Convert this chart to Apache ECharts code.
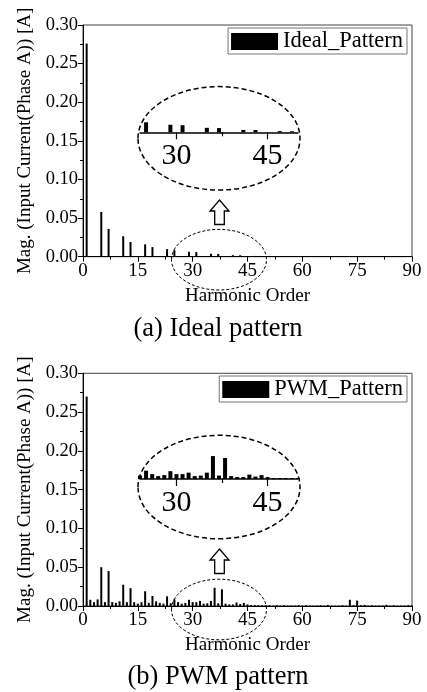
<!DOCTYPE html>
<html><head><meta charset="utf-8">
<script src="https://cdn.jsdelivr.net/npm/echarts@6/dist/echarts.min.js"></script>
<style>html,body{margin:0;padding:0;background:#fff}#c{width:427px;height:692px}</style>
</head><body><div id="c"></div><script>
const FONT = '"Liberation Serif","Times New Roman",serif';
// ---- data ----
const idealOrders = [1,5,7,11,13,17,19,23,25,29,31,35,37,41,43,47,49,53,55,59,61,65,67,71,73,77,79,83,85,89];
const idealMags   = [0.276,0.058,0.036,0.0265,0.019,0.016,0.0124,0.0098,0.0085,0.0064,0.006,0.0038,0.0036,0.002,0.0019,0.001,0.0009,
                     0.0006,0.0005,0.0005,0.0004,0.0004,0.0004,0.0003,0.0003,0.0003,0.0003,0.0003,0.0002,0.0002];
const pwmOrders = [1,2,3,4,5,6,7,8,9,10,11,12,13,14,15,16,17,18,19,20,21,22,23,24,25,26,27,28,29,30,
                   31,32,33,34,35,36,37,38,39,40,41,42,43,44,45,46,47,48,49,50,51,52,53,54,55,56,57,58,59,60,
                   61,62,63,64,65,66,67,68,69,70,71,72,73,74,75,76,77,78,79,80,81,82,83,84,85,86,87,88,89,90];
const pwmMags = [0.270,0.008,0.005,0.0085,0.050,0.005,0.045,0.005,0.004,0.006,
                 0.0275,0.005,0.023,0.005,0.003,0.005,0.019,0.004,0.013,0.006,
                 0.004,0.003,0.0125,0.0035,0.0085,0.005,0.003,0.004,0.008,0.005,
                 0.005,0.0065,0.003,0.0035,0.0065,0.0235,0.0035,0.0215,0.003,0.002,
                 0.002,0.0045,0.0025,0.004,0.002,0.001,0.001,0.001,0.001,0.001,
                 0.001,0.0005,0.001,0.0005,0.001,0.0005,0.0005,0.0005,0.001,0.0005,
                 0.001,0.0005,0.0005,0.0005,0.001,0.0005,0.0015,0.0005,0.0005,0.0005,
                 0.001,0.0005,0.008,0.001,0.007,0.001,0.0015,0.0005,0.001,0.0005,
                 0.0005,0.0005,0.0015,0.0005,0.001,0.0005,0.0005,0.0005,0.001,0.0005];
const xMajor = 15, xMax = 90;
const yMajor = 0.05, yMax = 0.30;
const insetRange = [24, 50];
const insetTicks = [30, 45];
const insetMinorTicks = [37.5];
const seriesNames = ['Ideal_Pattern', 'PWM_Pattern'];
const captions = ['(a) Ideal pattern', '(b) PWM pattern'];
const xName = 'Harmonic Order';
const yName = 'Mag. (Input Current(Phase A)) [A]';

const idealData = idealOrders.map((o, i) => [o, idealMags[i]]);
const pwmData = pwmOrders.map((o, i) => [o, pwmMags[i]]);
const inInset = d => d[0] >= insetRange[0] && d[0] <= insetRange[1];

// ---- layout ----
const panels = [
  {top: 25, height: 231.7, insetAxisY: 132.3, insetYMax: 0.034, cy: 138.3, smallCy: 259.7, arrowTop: 200, legendTop: 28, capY: 329},
  {top: 373.3, height: 232.7, insetAxisY: 479, insetYMax: 0.041, cy: 487, smallCy: 609.5, arrowTop: 549, legendTop: 376, capY: 677}
];
const gridLeft = 83, gridWidth = 329;
const insetLeft = 140, insetWidth = 158, insetH = 40;

const grids = [], xAxes = [], yAxes = [], series = [], legends = [], graphics = [];
const black = '#000';
panels.forEach((p, k) => {
  const gMain = grids.length;
  grids.push({left: gridLeft, top: p.top, width: gridWidth, height: p.height, show: true, borderColor: '#444', borderWidth: 1, backgroundColor: 'transparent'});
  const gIn = grids.length;
  grids.push({left: insetLeft, top: p.insetAxisY - insetH, width: insetWidth, height: insetH, show: false});

  const xMain = xAxes.length;
  xAxes.push({gridIndex: gMain, type: 'value', min: 0, max: xMax, interval: xMajor, position: 'bottom',
    name: xName, nameLocation: 'middle', nameGap: 30, nameTextStyle: {fontFamily: FONT, fontSize: 19, color: black},
    axisLine: {lineStyle: {color: black, width: 1}}, axisTick: {length: 5, lineStyle: {color: black}},
    minorTick: {show: true, splitNumber: 2, length: 3, lineStyle: {color: black}},
    splitLine: {show: false}, axisLabel: {fontFamily: FONT, fontSize: 19, color: black, margin: 5}});
  const xIn = xAxes.length;
  xAxes.push({gridIndex: gIn, type: 'value', min: insetRange[0], max: insetRange[1], position: 'bottom',
    axisLine: {onZero: false, lineStyle: {color: black, width: 1.5}},
    axisTick: {customValues: insetTicks, length: 7, lineStyle: {color: black, width: 1.2}},
    axisLabel: {customValues: insetTicks, fontFamily: FONT, fontSize: 30, color: black, margin: 9},
    splitLine: {show: false}});
  xAxes.push({gridIndex: gIn, type: 'value', min: insetRange[0], max: insetRange[1], position: 'bottom', offset: 0,
    axisLine: {show: false},
    axisTick: {customValues: insetMinorTicks, length: 4, lineStyle: {color: black, width: 1.2}},
    axisLabel: {show: false}, splitLine: {show: false}});

  const yMain = yAxes.length;
  yAxes.push({gridIndex: gMain, type: 'value', min: 0, max: yMax, interval: yMajor,
    name: yName, nameLocation: 'middle', nameGap: 47, nameRotate: 90,
    nameTextStyle: {fontFamily: FONT, fontSize: 19, color: black},
    axisLine: {show: true, lineStyle: {color: black, width: 1}}, axisTick: {show: true, length: 5, lineStyle: {color: black}},
    minorTick: {show: true, splitNumber: 2, length: 3, lineStyle: {color: black}},
    splitLine: {show: false},
    axisLabel: {fontFamily: FONT, fontSize: 18.5, color: black, margin: 5, formatter: v => v.toFixed(2)}});
  const yIn = yAxes.length;
  yAxes.push({gridIndex: gIn, type: 'value', min: 0, max: p.insetYMax, show: false});

  const data = k === 0 ? idealData : pwmData;
  series.push({type: 'bar', name: seriesNames[k], xAxisIndex: xMain, yAxisIndex: yMain, data: data,
    barWidth: 2, itemStyle: {color: black}, silent: true, animation: false});
  series.push({type: 'bar', name: seriesNames[k] + ' (zoom)', xAxisIndex: xIn, yAxisIndex: yIn, data: data.filter(inInset),
    barWidth: 4, itemStyle: {color: black}, silent: true, animation: false});

  legends.push({data: [seriesNames[k]], right: 20, top: p.legendTop, icon: 'rect', itemWidth: 47, itemHeight: 17, itemGap: 4,
    padding: [2, 4, 1, 3], borderColor: '#777', borderWidth: 1, backgroundColor: '#fff', selectedMode: false,
    textStyle: {fontFamily: FONT, fontSize: 22.5, color: black}});

  // annotation shapes
  graphics.push({type: 'ellipse', shape: {cx: 219, cy: p.cy, rx: 81, ry: 51.7}, silent: true,
    style: {fill: null, stroke: black, lineWidth: 1.5, lineDash: [5, 3]}});
  graphics.push({type: 'ellipse', shape: {cx: 219, cy: p.smallCy, rx: 47.5, ry: 30.3}, silent: true,
    style: {fill: null, stroke: black, lineWidth: 1, lineDash: [3, 2]}});
  const t = p.arrowTop;
  graphics.push({type: 'polygon', silent: true,
    shape: {points: [[219.5, t], [229, t + 11], [224.3, t + 11], [224.3, t + 24.5], [214.7, t + 24.5], [214.7, t + 11], [210, t + 11]]},
    style: {fill: '#fff', stroke: black, lineWidth: 1.3}});
  graphics.push({type: 'text', x: 218, y: p.capY, silent: true,
    style: {text: captions[k], font: '26.5px ' + FONT, fill: black, textAlign: 'center', textVerticalAlign: 'middle'}});
});

const chart = echarts.init(document.getElementById('c'), null, {renderer: 'canvas'});
chart.setOption({
  animation: false,
  backgroundColor: '#fff',
  grid: grids, xAxis: xAxes, yAxis: yAxes, series: series, legend: legends, graphic: graphics
});
</script></body></html>
